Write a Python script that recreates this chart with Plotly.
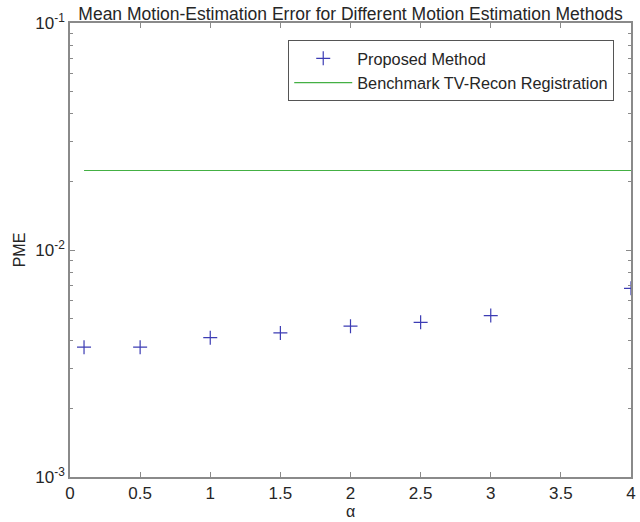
import plotly.graph_objects as go

# Regularisation weights and measured mean motion-estimation error
alpha = [0.1, 0.5, 1.0, 1.5, 2.0, 2.5, 3.0, 4.0]
proposed_pme = [0.00373, 0.00373, 0.00411, 0.00431, 0.00462, 0.0048, 0.00514, 0.00678]
benchmark_pme = [0.0224, 0.0224, 0.0224, 0.0224, 0.0224, 0.0224, 0.0224, 0.0224]

x_ticks = [0, 0.5, 1, 1.5, 2, 2.5, 3, 3.5, 4]
x_tick_text = ["0", "0.5", "1", "1.5", "2", "2.5", "3", "3.5", "4"]
y_ticks = [1e-3, 1e-2, 1e-1]
y_tick_text = ["10<sup>-3</sup>", "10<sup>-2</sup>", "10<sup>-1</sup>"]
y_minor = [m * 10 ** e for e in (-3, -2) for m in range(2, 10)]

AXIS_GREY = "#8a8a8a"
TEXT = "#262626"
FONT = "Liberation Sans, Arial, sans-serif"

fig = go.Figure()
fig.add_trace(go.Scatter(
    x=alpha, y=proposed_pme, mode="markers", name="Proposed Method",
    marker=dict(symbol="cross-thin", size=10, line=dict(width=1.2, color="#3c3cb4")),
))
fig.add_trace(go.Scatter(
    x=alpha, y=benchmark_pme, mode="lines", name="Benchmark TV-Recon Registration",
    line=dict(color="#44b044", width=1.2),
))

yrange = [-3, -1]
fig.update_layout(
    width=640, height=522,
    margin=dict(l=70, r=4, t=23, b=45),
    paper_bgcolor="white", plot_bgcolor="white",
    font=dict(family=FONT, size=16, color=TEXT),
    title=dict(text="Mean Motion-Estimation Error for Different Motion Estimation Methods",
               xref="paper", x=0.5, xanchor="center", y=0.974, yanchor="middle",
               font=dict(size=17.5, color=TEXT)),
    showlegend=True,
    legend=dict(x=0.389, y=0.962, xanchor="left", yanchor="top",
                bordercolor="#555555", borderwidth=1, bgcolor="white",
                font=dict(size=16.3, color=TEXT), itemwidth=58,
                tracegroupgap=0),
    xaxis=dict(range=[0, 4], tickvals=x_ticks, ticktext=x_tick_text,
               showgrid=False, zeroline=False, showline=True, linecolor=AXIS_GREY,
               linewidth=1.5, mirror="ticks", ticks="inside", ticklen=5,
               tickcolor=AXIS_GREY, tickfont=dict(size=17, color=TEXT),
               title=dict(text="α", standoff=2, font=dict(size=16, color=TEXT))),
    yaxis=dict(type="log", range=yrange, tickvals=y_ticks, ticktext=y_tick_text,
               showgrid=False, zeroline=False, showline=True, linecolor=AXIS_GREY,
               linewidth=1.5, mirror="ticks", ticks="inside", ticklen=5,
               tickcolor=AXIS_GREY, tickfont=dict(size=17, color=TEXT),
               title=dict(text="PME", standoff=6, font=dict(size=16, color=TEXT))),
    # minor log ticks on both vertical edges
    yaxis2=dict(type="log", range=yrange, overlaying="y", side="left",
                tickvals=y_minor, ticktext=[""] * len(y_minor), ticks="inside",
                ticklen=3, tickcolor=AXIS_GREY, showgrid=False, showline=False,
                zeroline=False),
    yaxis3=dict(type="log", range=yrange, overlaying="y", side="right",
                tickvals=y_minor, ticktext=[""] * len(y_minor), ticks="inside",
                ticklen=3, tickcolor=AXIS_GREY, showgrid=False, showline=False,
                zeroline=False),
)

# invisible carriers so the overlay axes are drawn
fig.add_trace(go.Scatter(x=[None], y=[None], yaxis="y2", showlegend=False, hoverinfo="skip"))
fig.add_trace(go.Scatter(x=[None], y=[None], yaxis="y3", showlegend=False, hoverinfo="skip"))

fig.write_html("out.html")
